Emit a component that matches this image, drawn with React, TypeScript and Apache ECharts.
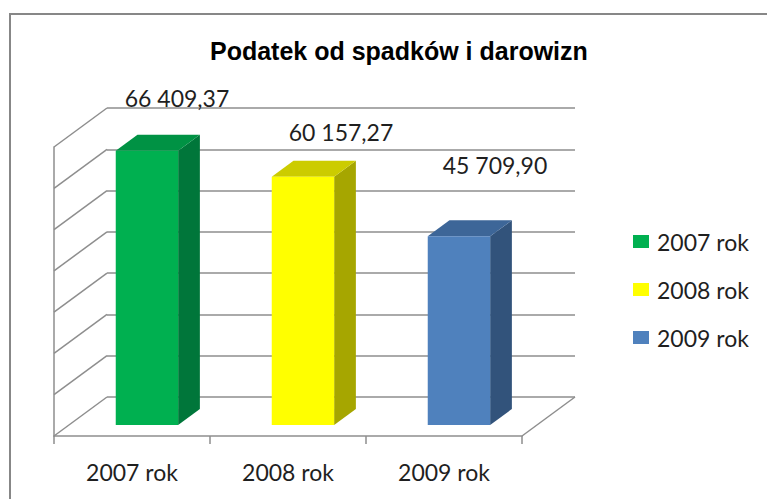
import React, { useEffect, useRef } from "react";
import * as echarts from "echarts";

// ---- data ----
const categories = ["2007 rok", "2008 rok", "2009 rok"];
const values = [66409.37, 60157.27, 45709.9];
const yTicks = [0, 10000, 20000, 30000, 40000, 50000, 60000, 70000];
const chartTitle = "Podatek od spadków i darowizn";

// ---- styles ----
const frontColors = ["#00B050", "#FFFF00", "#4F81BD"];
const topColors = ["#009244", "#CCCC00", "#3D6698"];
const sideColors = ["#00763A", "#A6A600", "#32537B"];
const labelShift: [number, number][] = [
  [-8, -25],
  [0, -17],
  [-2, -43],
];
const DX = 53; // depth vector (back -> front)
const DY = 39;
const F_FRONT = 0.718;
const F_BACK = 0.308;
const GRID_COLOR = "#8e8e8e";
const FONT = "Lato, 'Liberation Sans', sans-serif";

function fmt(v: number): string {
  const [i, d] = v.toFixed(2).split(".");
  return i.replace(/\B(?=(\d{3})+(?!\d))/g, " ") + "," + d;
}

export default function App() {
  const ref = useRef<HTMLDivElement>(null);
  useEffect(() => {
    if (!ref.current) return;
    const chart = echarts.init(ref.current, null, { renderer: "svg" });

    const barSeries = categories.map((name, k) => ({
      type: "custom",
      name,
      xAxisIndex: 0,
      yAxisIndex: 0,
      z: 5,
      itemStyle: { color: frontColors[k] },
      data: [[k, values[k]]],
      renderItem: (params: any, api: any) => {
        const [cx, yt] = api.coord([api.value(0), api.value(1)]);
        const y0 = api.coord([api.value(0), 0])[1];
        const band = api.size([1, 0])[0];
        const hw = band * 0.2;
        const fx = -DX * F_FRONT,
          fy = DY * F_FRONT;
        const bx = -DX * F_BACK,
          by = DY * F_BACK;
        return {
          type: "group",
          children: [
            {
              type: "polygon",
              shape: {
                points: [
                  [cx + hw + fx, yt + fy],
                  [cx + hw + bx, yt + by],
                  [cx + hw + bx, y0 + by],
                  [cx + hw + fx, y0 + fy],
                ],
              },
              style: { fill: sideColors[k] },
            },
            {
              type: "polygon",
              shape: {
                points: [
                  [cx - hw + fx, yt + fy],
                  [cx + hw + fx, yt + fy],
                  [cx + hw + bx, yt + by],
                  [cx - hw + bx, yt + by],
                ],
              },
              style: { fill: topColors[k] },
            },
            {
              type: "rect",
              shape: { x: cx - hw + fx, y: yt + fy, width: 2 * hw, height: y0 - yt },
              style: { fill: frontColors[k] },
            },
            {
              type: "text",
              x: cx + labelShift[k][0],
              y: yt + labelShift[k][1],
              style: {
                text: fmt(api.value(1)),
                align: "center",
                verticalAlign: "middle",
                font: `23px ${FONT}`,
                fill: "#1f1f1f",
              },
            },
          ],
        };
      },
    }));

    const frameSeries = {
      type: "custom",
      name: "frame",
      xAxisIndex: 0,
      yAxisIndex: 0,
      silent: true,
      z: 1,
      data: yTicks.map((t) => [0, t]),
      renderItem: (params: any, api: any) => {
        const cs = params.coordSys;
        const y = api.coord([0, api.value(1)])[1];
        const lineStyle = { stroke: GRID_COLOR, lineWidth: 1.5 };
        const children: any[] = [
          {
            type: "line",
            shape: { x1: cs.x, y1: y, x2: cs.x - DX, y2: y + DY },
            style: lineStyle,
          },
        ];
        if (api.value(1) === 0) {
          children.push({
            type: "line",
            shape: { x1: cs.x + cs.width, y1: y, x2: cs.x + cs.width - DX, y2: y + DY },
            style: lineStyle,
          });
        }
        return { type: "group", children };
      },
    };

    chart.setOption({
      animation: false,
      backgroundColor: "#fff",
      title: {
        text: chartTitle,
        left: 210,
        top: 38,
        padding: 0,
        textStyle: {
          fontFamily: "'Liberation Sans', Arial, sans-serif",
          fontWeight: "bold",
          fontSize: 25,
          color: "#000",
        },
      },
      graphic: [
        {
          type: "rect",
          shape: { x: 10, y: 14, width: 900, height: 700 },
          style: { fill: "none", stroke: "#878787", lineWidth: 2 },
          silent: true,
        },
      ],
      legend: {
        data: categories,
        orient: "vertical",
        left: 633,
        top: 230,
        padding: 0,
        itemWidth: 16,
        itemHeight: 13,
        itemGap: 25,
        icon: "rect",
        textStyle: {
          fontFamily: FONT,
          fontSize: 23,
          color: "#1f1f1f",
          lineHeight: 23,
          padding: [0, 0, 0, 3],
        },
      },
      grid: [
        { left: 107, top: 108, width: 468, height: 289 },
        { left: 54, top: 147, width: 468, height: 289 },
      ],
      xAxis: [
        {
          type: "category",
          gridIndex: 0,
          data: categories,
          axisLine: { show: false },
          axisTick: { show: false },
          axisLabel: { show: false },
        },
        {
          type: "category",
          gridIndex: 1,
          data: categories,
          axisLine: { show: true, lineStyle: { color: GRID_COLOR, width: 1.5 } },
          axisTick: { show: true, length: 8, lineStyle: { color: GRID_COLOR, width: 1.5 } },
          axisLabel: { fontFamily: FONT, fontSize: 23, color: "#1f1f1f", margin: 24 },
        },
      ],
      yAxis: [
        {
          type: "value",
          gridIndex: 0,
          min: 0,
          max: 70000,
          interval: 10000,
          axisLine: { show: false },
          axisTick: { show: false },
          axisLabel: { show: false },
          splitLine: { show: true, lineStyle: { color: GRID_COLOR, width: 1.5 } },
        },
        {
          type: "value",
          gridIndex: 1,
          min: 0,
          max: 70000,
          interval: 10000,
          axisLine: { show: true, lineStyle: { color: GRID_COLOR, width: 1.5 } },
          axisTick: { show: false },
          axisLabel: { show: false },
          splitLine: { show: false },
        },
      ],
      series: [frameSeries, ...barSeries],
    });
    return () => chart.dispose();
  }, []);
  return (
    <div
      ref={ref}
      style={{ position: "absolute", left: 0, top: 0, width: 767, height: 499 }}
    />
  );
}
